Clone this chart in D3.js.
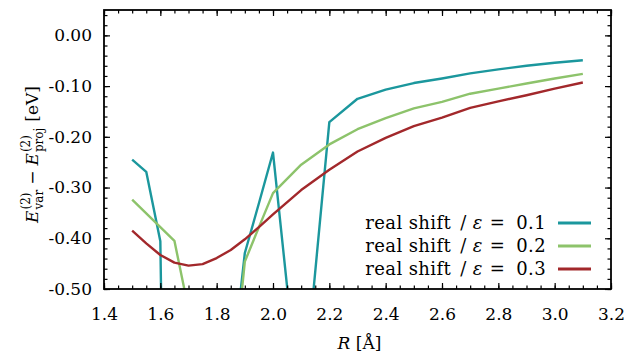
<!DOCTYPE html>
<html>
<head>
<meta charset="utf-8">
<script src="https://cdn.jsdelivr.net/npm/d3@7"></script>
<style>
  body { margin: 0; background: #fff; }
  text { font-family: "DejaVu Serif", "Liberation Serif", serif; fill: #000; }
  .TickLabel { font-size: 17px; }
  .AxisLabel { font-size: 17px; }
  .Legend { font-size: 18px; letter-spacing: 0.4px; }
</style>
</head>
<body>
<div id="viz"></div>
<script>
const CONST = { canvas : { width : 624, height : 356,
                            margin : { top : 10, right : 13, bottom : 67, left : 104 } },
                tick   : { major : 6, minor : 3.5 },
                line   : { width : 2.4 },
                legend : { top : 213, step : 23, lineX : [454, 487] } }

// data
const R      = [1.5, 1.55, 1.6, 1.65, 1.7, 1.75, 1.8, 1.85, 1.9, 1.95, 2.0, 2.1, 2.2, 2.3, 2.4, 2.5, 2.6, 2.7, 2.8, 2.9, 3.0, 3.1]
const eps01  = [-0.245, -0.269, -0.406, -2.26, -2.0, -1.6, -1.1, -0.68, -0.429, -0.331, -0.231, -0.76, -0.171, -0.125, -0.107, -0.094, -0.085, -0.075, -0.067, -0.060, -0.054, -0.049]
const eps02  = [-0.324, -0.351, -0.378, -0.405, -0.54, -0.9, -1.0, -0.72, -0.446, -0.378, -0.311, -0.255, -0.215, -0.185, -0.163, -0.144, -0.131, -0.115, -0.105, -0.095, -0.085, -0.076]
const eps03  = [-0.385, -0.41, -0.433, -0.448, -0.454, -0.451, -0.439, -0.423, -0.402, -0.378, -0.353, -0.305, -0.265, -0.229, -0.202, -0.179, -0.162, -0.143, -0.130, -0.118, -0.105, -0.093]
const seriesNames  = ['0.1', '0.2', '0.3']
const seriesColors = ['#1b979d', '#8dc36b', '#a2282b']
const xTicks = [1.4, 1.6, 1.8, 2.0, 2.2, 2.4, 2.6, 2.8, 3.0, 3.2]
const yTicks = [0.00, -0.10, -0.20, -0.30, -0.40, -0.50]

const M = CONST.canvas.margin
const W = CONST.canvas.width  - M.left - M.right
const H = CONST.canvas.height - M.top  - M.bottom

const svgCanvas = d3.select("#viz").append("svg")
    .attr("width", CONST.canvas.width)
    .attr("height", CONST.canvas.height)
const svg = svgCanvas.append("g")
    .attr("transform", `translate(${M.left},${M.top})`)

const _x = d3.scaleLinear().domain([1.4, 3.2]).range([0, W])
const _y = d3.scaleLinear().domain([-0.5, 0.05]).range([H, 0])

svg.append("clipPath").attr("id", "plotClip")
    .append("rect").attr("width", W).attr("height", H)

// curves
const line = d3.line().x(d => _x(d[0])).y(d => _y(d[1]))
const series = [eps01, eps02, eps03]
series.forEach((s, i) => {
    svg.append("path")
        .datum(R.map((r, j) => [r, s[j]]))
        .attr("d", line)
        .attr("clip-path", "url(#plotClip)")
        .attr("fill", "none")
        .attr("stroke", seriesColors[i])
        .attr("stroke-width", CONST.line.width)
        .attr("stroke-linejoin", "round")
})

// axes: ticks inward on all four sides
function tickAxis(axisFn, scale, major, minor, transform, labels) {
    const g = svg.append("g").attr("transform", transform)
    g.call(axisFn(scale).tickValues(minor).tickSize(CONST.tick.minor).tickFormat(""))
    const gm = svg.append("g").attr("transform", transform)
    gm.call(axisFn(scale).tickValues(major).tickSize(CONST.tick.major)
        .tickFormat(labels ? labels : ""))
    ;[g, gm].forEach(a => {
        a.select(".domain").remove()
        a.selectAll("line").attr("stroke", "#000").attr("stroke-width", 1.2)
    })
    return gm
}
const xMinor = d3.range(1.4, 3.2001, 0.05).map(v => +v.toFixed(2))
const yMinor = d3.range(-0.5, 0.0501, 0.02).map(v => +v.toFixed(2))

// bottom / top
const xb = tickAxis(d3.axisTop, _x, xTicks, xMinor, `translate(0,${H})`, d => d.toFixed(1))
xb.selectAll("text").attr("class", "TickLabel").attr("y", 31).attr("font-size", null).attr("font-family", null)
tickAxis(d3.axisBottom, _x, xTicks, xMinor, `translate(0,0)`, null)
// left / right
const yl = tickAxis(d3.axisRight, _y, yTicks, yMinor, `translate(0,0)`, d => d.toFixed(2))
yl.selectAll("text").attr("class", "TickLabel").attr("x", -12).attr("text-anchor", "end")
    .attr("font-size", null).attr("font-family", null)
tickAxis(d3.axisLeft, _y, yTicks, yMinor, `translate(${W},0)`, null)

svg.append("rect").attr("width", W).attr("height", H)
    .attr("fill", "none").attr("stroke", "#000").attr("stroke-width", 1.8)

// x label
const xl = svg.append("text").attr("class", "AxisLabel")
    .attr("x", W / 2 + 2).attr("y", H + 60).attr("text-anchor", "middle")
xl.append("tspan").attr("font-style", "italic").text("R")
xl.append("tspan").text(" [Å]")

// y label: E_var^(2) − E_proj^(2) [eV], built piece by piece
const ylab = svgCanvas.append("g").attr("transform", `translate(38,${M.top + H / 2 + 5}) rotate(-90)`)
const parts = ylab.append("g")
let cx = 0
function piece(txt, opts) {
    const t = parts.append("text").attr("x", cx).attr("y", opts.dy || 0)
        .attr("font-size", opts.size || 17)
        .attr("font-style", opts.italic ? "italic" : "normal")
        .text(txt)
    return t.node().getComputedTextLength()
}
function Eterm(sub) {
    cx += piece("E", { italic: true }) + 1
    const w1 = piece("(2)", { size: 12, dy: -8 })
    const w2 = piece(sub, { size: 12, dy: 5 })
    cx += Math.max(w1, w2)
}
Eterm("var")
cx += 5
cx += piece("−", {})
cx += 5
Eterm("proj")
cx += 6
cx += piece("[eV]", {})
parts.attr("transform", `translate(${-cx / 2},0)`)

// legend: pieces laid out right to left with math-like gaps
const L = CONST.legend
const legend = svg.append("g")
seriesNames.forEach((n, i) => {
    const ly = L.top + i * L.step
    const row = legend.append("g").attr("transform", `translate(0,${ly + 6})`)
    const bits = [ { t: n, gap: 0 }, { t: "=", gap: 11 }, { t: "ε", gap: 7, it: true },
                   { t: "/", gap: 6 }, { t: "real shift", gap: 9 } ]
    let right = 442
    bits.forEach(b => {
        right -= b.gap
        const t = row.append("text").attr("class", "Legend")
            .attr("x", right).attr("text-anchor", "end")
            .attr("font-style", b.it ? "italic" : "normal")
            .text(b.t)
        right -= t.node().getComputedTextLength()
    })
    legend.append("line")
        .attr("x1", L.lineX[0]).attr("x2", L.lineX[1])
        .attr("y1", ly).attr("y2", ly)
        .attr("stroke", seriesColors[i]).attr("stroke-width", CONST.line.width + 0.4)
})
</script>
</body>
</html>
